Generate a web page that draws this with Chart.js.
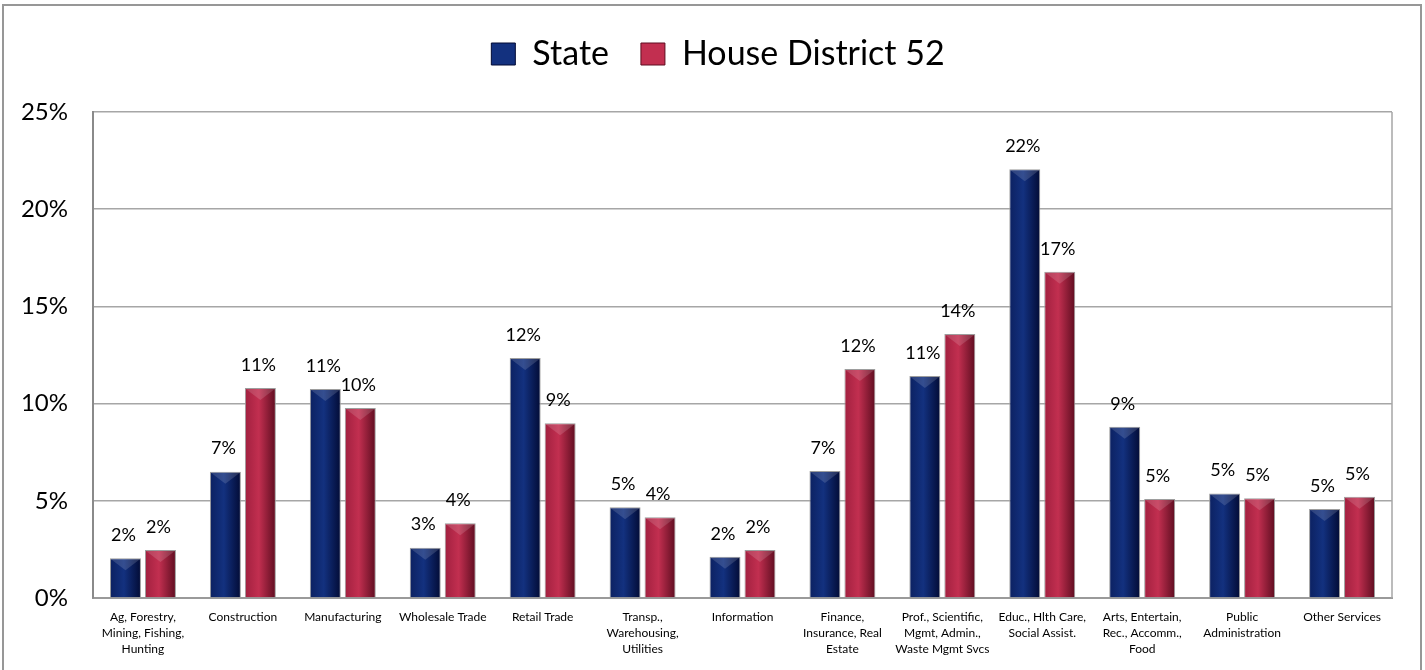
<!DOCTYPE html>
<html>
<head>
<meta charset="utf-8">
<script src="https://cdn.jsdelivr.net/npm/chart.js@4.4.1/dist/chart.umd.min.js"></script>
<style>
    html, body { margin: 0; padding: 0; background: #fff; }
    #frame {
        position: absolute; left: 2px; top: 4px; width: 1420px; height: 720px;
        border: 2px solid #979797; box-sizing: border-box;
    }
    #wrap { position: absolute; left: 0; top: 0; width: 1425px; height: 670px; }
</style>
</head>
<body>
<div id="frame"></div>
<div id="wrap"><canvas id="chart"></canvas></div>
<script>
const categories = [
    ["Ag, Forestry,", "Mining, Fishing,", "Hunting"],
    "Construction",
    "Manufacturing",
    "Wholesale Trade",
    "Retail Trade",
    ["Transp.,", "Warehousing,", "Utilities"],
    "Information",
    ["Finance,", "Insurance, Real", "Estate"],
    ["Prof., Scientific,", "Mgmt, Admin.,", "Waste Mgmt Svcs"],
    ["Educ., Hlth Care,", "Social Assist."],
    ["Arts, Entertain,", "Rec., Accomm.,", "Food"],
    ["Public", "Administration"],
    "Other Services"
];
const stateValues = [2.04, 6.50, 10.75, 2.59, 12.35, 4.67, 2.12, 6.53, 11.42, 22.05, 8.81, 5.38, 4.58];
const districtValues = [2.47, 10.8, 9.77, 3.84, 8.99, 4.15, 2.47, 11.78, 13.58, 16.78, 5.09, 5.13, 5.21];
const seriesNames = ["State", "House District 52"];
const yTicks = [0, 5, 10, 15, 20, 25];

const FONT = "Lato, 'Open Sans', sans-serif";
const CAT_PCT = 0.70;
const BAR_PCT = 0.886;

// colour stops for the cylinder look: left, middle, right
const shades = [
    ["#0c2161", "#13317f", "#020b35"],
    ["#a1203f", "#c22f50", "#5e0d20"]
];

function barGradient(ctx, di) {
    const chart = ctx.chart;
    const xs = chart.scales.x;
    if (!xs || ctx.dataIndex === undefined) return shades[di][1];
    const cat = xs.getPixelForValue(ctx.dataIndex);
    const catW = (xs.right - xs.left) / categories.length;
    const slot = catW * CAT_PCT / 2;
    const w = slot * BAR_PCT;
    const cx = cat + (di - 0.5) * slot;
    const g = chart.ctx.createLinearGradient(cx - w / 2, 0, cx + w / 2, 0);
    g.addColorStop(0, shades[di][0]);
    g.addColorStop(0.45, shades[di][1]);
    g.addColorStop(1, shades[di][2]);
    return g;
}

// percent labels above bars, bevel on bar tops, right side of plot box
const decorPlugin = {
    id: "decor",
    afterDatasetsDraw(chart) {
        const c = chart.ctx;
        chart.data.datasets.forEach((ds, di) => {
            const meta = chart.getDatasetMeta(di);
            meta.data.forEach((bar, i) => {
                const left = bar.x - bar.width / 2;
                const right = bar.x + bar.width / 2;
                c.save();
                c.fillStyle = "rgba(255,255,255,0.14)";
                c.beginPath();
                c.moveTo(left + 1, bar.y + 1);
                c.lineTo(right - 1, bar.y + 1);
                c.lineTo(bar.x, bar.y + 12);
                c.closePath();
                c.fill();
                c.fillStyle = "#000";
                c.font = "18px " + FONT;
                c.textAlign = "center";
                c.textBaseline = "middle";
                c.fillText(Math.round(ds.data[i]) + "%", bar.x - 2, bar.y - 23);
                c.restore();
            });
        });
        const a = chart.chartArea;
        c.save();
        c.strokeStyle = "#a6a6a6";
        c.lineWidth = 1.5;
        c.beginPath();
        c.moveTo(a.right, a.top);
        c.lineTo(a.right, a.bottom);
        c.stroke();
        c.restore();
    }
};

const ctx = document.getElementById("chart").getContext("2d");
const chart = new Chart(ctx, {
    type: "bar",
    data: {
        labels: categories,
        datasets: [
            {
                label: seriesNames[0],
                data: stateValues,
                backgroundColor: (c) => barGradient(c, 0),
                borderColor: "#9d9d9d",
                borderWidth: 1,
                categoryPercentage: CAT_PCT,
                barPercentage: BAR_PCT
            },
            {
                label: seriesNames[1],
                data: districtValues,
                backgroundColor: (c) => barGradient(c, 1),
                borderColor: "#9d9d9d",
                borderWidth: 1,
                categoryPercentage: CAT_PCT,
                barPercentage: BAR_PCT
            }
        ]
    },
    options: {
        responsive: true,
        maintainAspectRatio: false,
        animation: false,
        layout: { padding: { top: 5, right: 33, bottom: 0, left: 0 } },
        plugins: {
            tooltip: { enabled: false },
            legend: {
                position: "top",
                labels: {
                    boxWidth: 24,
                    boxHeight: 22,
                    padding: 32,
                    color: "#000",
                    font: { family: FONT, size: 34 },
                    generateLabels: () => seriesNames.map((name, i) => ({
                        text: name,
                        fillStyle: shades[i][1],
                        strokeStyle: shades[i][2],
                        lineWidth: 1,
                        datasetIndex: i
                    }))
                }
            }
        },
        scales: {
            x: {
                grid: { display: false, drawTicks: false },
                border: { color: "#9a9a9a", width: 2 },
                ticks: {
                    autoSkip: false,
                    maxRotation: 0,
                    minRotation: 0,
                    padding: 11,
                    color: "#000",
                    font: { family: FONT, size: 12, lineHeight: 1.33 }
                },
                afterFit: (s) => { s.height = 72; }
            },
            y: {
                min: 0,
                max: 25,
                afterBuildTicks: (s) => { s.ticks = yTicks.map(v => ({ value: v })); },
                grid: { color: "#a6a6a6", lineWidth: 1.5, drawTicks: false },
                border: { color: "#8a8a8a", width: 2 },
                ticks: {
                    padding: 25,
                    color: "#000",
                    font: { family: FONT, size: 24 },
                    callback: (v) => v + "%"
                },
                afterFit: (s) => { s.width = 93; }
            }
        }
    },
    plugins: [decorPlugin]
});

// leave room under the legend like the original, and centre it a little to the right
const legendFit = chart.legend.fit;
chart.legend.fit = function () {
    legendFit.call(this);
    this.height += 31;
};
const legendDraw = chart.legend.draw;
chart.legend.draw = function () {
    this.ctx.save();
    this.ctx.translate(22, 0);
    legendDraw.call(this);
    this.ctx.restore();
};
chart.update();
</script>
</body>
</html>
